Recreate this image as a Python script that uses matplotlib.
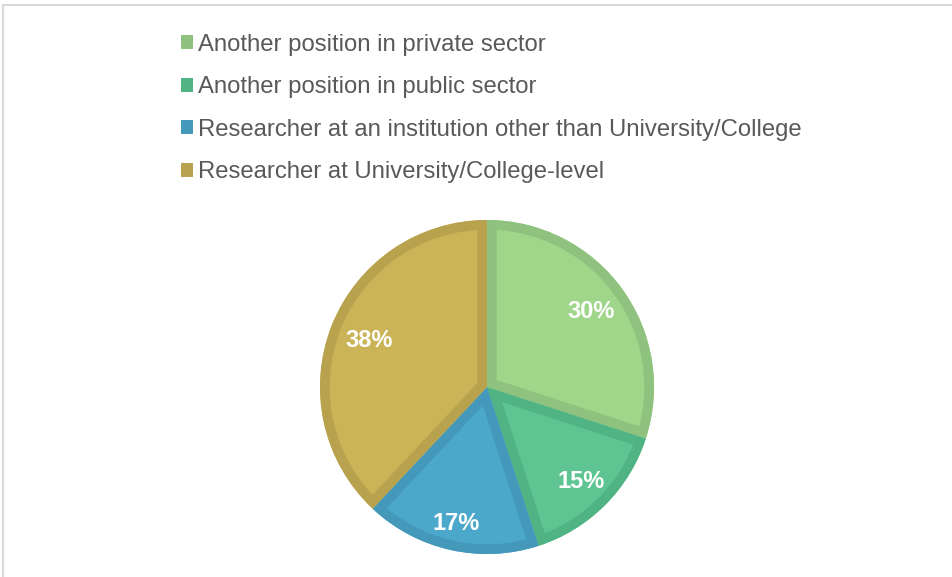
import numpy as np
import matplotlib.pyplot as plt
from matplotlib.patches import Patch, Wedge
from matplotlib.lines import Line2D

plt.rcParams['font.family'] = ['Liberation Sans', 'DejaVu Sans']

labels = [
    "Another position in private sector",
    "Another position in public sector",
    "Researcher at an institution other than University/College",
    "Researcher at University/College-level",
]
shares = [30, 15, 17, 38]
fill_colors = ["#A0D68A", "#5EC592", "#4BA8CB", "#CBB457"]
edge_colors = ["#8FC27E", "#50B383", "#4499BA", "#B8A24E"]
label_dist = [0.77, 0.80, 0.84, 0.76]  # per-slice label radius (fraction of pie radius)

W, H = 952, 577
fig = plt.figure(figsize=(W / 100, H / 100), dpi=100)

# --- light frame (top + left edges only visible) ---
fig.add_artist(Line2D([3 / W, 3 / W], [0, 1 - 5 / H], color="#d9d9d9", lw=1.5))
fig.add_artist(Line2D([3 / W, 1], [1 - 5 / H, 1 - 5 / H], color="#d9d9d9", lw=1.5))

# --- pie ---
cx, cy, r = 487, 387, 167
ax = fig.add_axes([(cx - r) / W, (H - cy - r) / H, 2 * r / W, 2 * r / H])
wedges, texts, autotexts = ax.pie(
    shares, colors=fill_colors, startangle=90, counterclock=False,
    autopct="%d%%", pctdistance=0.76,
    wedgeprops=dict(linewidth=0),
    textprops=dict(color="white", fontsize=17, fontweight="bold"),
)
# inner stroke: an outline copy of each slice, clipped to the slice itself
for w, ec, t, d in zip(wedges, edge_colors, autotexts, label_dist):
    outline = Wedge(w.center, w.r, w.theta1, w.theta2, facecolor="none",
                    edgecolor=ec, linewidth=14, zorder=w.get_zorder() + 0.1)
    ax.add_patch(outline)
    outline.set_clip_path(w)
    mid = np.deg2rad((w.theta1 + w.theta2) / 2)
    t.set_position((d * np.cos(mid), d * np.sin(mid)))
    t.set_zorder(5)
ax.set_xlim(-1, 1)
ax.set_ylim(-1, 1)
ax.set_aspect("equal")
ax.axis("off")

# --- legend at top ---
handles = [Patch(facecolor=c, edgecolor="none") for c in edge_colors]
fig.legend(
    handles, labels, loc="upper left", bbox_to_anchor=(159 / W, 1 - 12 / H),
    frameon=False, fontsize=17.2, labelcolor="#595959",
    handlelength=0.52, handleheight=0.52, handletextpad=0.2, labelspacing=0.86,
)

fig.savefig("out.png", dpi=100, facecolor="white")
